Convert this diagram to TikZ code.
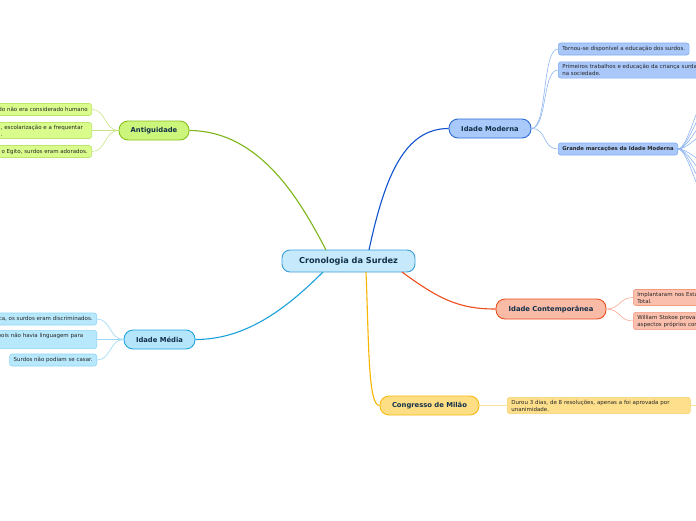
\documentclass[tikz,border=0pt]{standalone}
\usepackage{fontspec}
\setmainfont{DejaVu Sans}
\definecolor{txt}{HTML}{12304A}
\definecolor{cenF}{HTML}{C6E9FC}\definecolor{cenB}{HTML}{3A9FD8}
\definecolor{anF}{HTML}{CCF67B}\definecolor{anB}{HTML}{88C21D}\definecolor{anL}{HTML}{7DB618}
\definecolor{anLF}{HTML}{D9FC8C}\definecolor{anLB}{HTML}{BDE56A}\definecolor{anLL}{HTML}{C8E488}
\definecolor{meF}{HTML}{B4E5FA}\definecolor{meB}{HTML}{20A5E0}\definecolor{meL}{HTML}{1AA0DC}
\definecolor{meLF}{HTML}{B8E8FC}\definecolor{meLB}{HTML}{8ED5F5}\definecolor{meLL}{HTML}{9AD9F5}
\definecolor{moF}{HTML}{A8C9FA}\definecolor{moB}{HTML}{2C6CD6}\definecolor{moL}{HTML}{1052CF}
\definecolor{moLF}{HTML}{A9C8F9}\definecolor{moLB}{HTML}{7EAAF0}\definecolor{moLL}{HTML}{8FB6F2}
\definecolor{coF}{HTML}{F9BAA6}\definecolor{coB}{HTML}{EA5020}\definecolor{coL}{HTML}{EE4D1D}
\definecolor{coLF}{HTML}{FBC0AD}\definecolor{coLB}{HTML}{F4997D}\definecolor{coLL}{HTML}{F7AD96}
\definecolor{cgF}{HTML}{FEDE85}\definecolor{cgB}{HTML}{F6BB10}\definecolor{cgL}{HTML}{F8B500}
\definecolor{cgLF}{HTML}{FEDF8C}\definecolor{cgLB}{HTML}{F6D070}\definecolor{cgLL}{HTML}{FDE3A0}
\tikzset{
  mainbox/.style={draw, line width=0.9pt, rounded corners=9pt, minimum height=19pt,
    font=\fontsize{6.8}{8}\selectfont\bfseries, text=txt, inner sep=0pt},
  leafbox/.style={draw, line width=0.6pt, rounded corners=2.5pt, minimum height=12pt,
    font=\fontsize{5.5}{7}\selectfont, text=black!85, inner xsep=4pt, inner ysep=2.4pt, align=left},
  mainline/.style={line width=1.1pt},
  leafline/.style={line width=0.6pt}
}
\begin{document}
\begin{tikzpicture}[x=1pt,y=-1pt]
\useasboundingbox (0,0) rectangle (696,520);
\clip (0,0) rectangle (696,520);
\fill[white] (0,0) rectangle (696,520);

% central
\node[draw=cenB, fill=cenF, line width=0.9pt, rounded corners=8pt, minimum width=133pt, minimum height=22pt,
  font=\fontsize{8.2}{10}\selectfont\bfseries, text=txt, inner sep=0pt] (c) at (348.5,261) {Cronologia da Surdez};

% main topics
\node[mainbox, draw=anB, fill=anF, minimum width=70pt] (an) at (154,130.5) {Antiguidade};
\node[mainbox, draw=meB, fill=meF, minimum width=71pt] (me) at (159.5,339.5) {Idade Média};
\node[mainbox, draw=moB, fill=moF, minimum width=82pt] (mo) at (490,128.5) {Idade Moderna};
\node[mainbox, draw=coB, fill=coF, minimum width=110pt, minimum height=20pt] (co) at (551,309) {Idade Contemporânea};
\node[mainbox, draw=cgB, fill=cgF, minimum width=99pt] (cg) at (429.5,405.5) {Congresso de Milão};

% main connectors
\coordinate (cA) at (326,250);
\coordinate (cMo) at (369,250);
\coordinate (cMe) at (323,272);
\coordinate (cCo) at (402,272);
\coordinate (cCg) at (366,272);
\draw[mainline, anL] (an.east) .. controls (260,131) and (300,200) .. (cA);
\draw[mainline, moL] (cMo) .. controls (385,175) and (405,128.5) .. (mo.west);
\draw[mainline, meL] (cMe) .. controls (285,310) and (245,339.5) .. (me.east);
\draw[mainline, coL] (cCo) .. controls (440,300) and (460,309) .. (co.west);
\draw[mainline, cgL] (cCg) .. controls (369,345) and (368,405.5) .. (cg.west);

% Antiguidade leaves
\node[leafbox, draw=anLB, fill=anLF, anchor=east] (a1) at (92,109.5) {do não era considerado humano};
\node[leafbox, draw=anLB, fill=anLF, anchor=east, text width=87pt] (a2) at (92,130.5) {, escolarização e a frequentar\\.};
\node[leafbox, draw=anLB, fill=anLF, anchor=east] (a3) at (92,151.5) {o Egito, surdos eram adorados.};
\foreach \n in {a1,a2,a3}
  \draw[leafline, anLL] (an.west) .. controls +(-14,0) and +(14,0) .. (\n.east);

% Idade Media leaves
\node[leafbox, draw=meLB, fill=meLF, anchor=east] (m1) at (97,319) {ca, os surdos eram discriminados.};
\node[leafbox, draw=meLB, fill=meLF, anchor=east, text width=95pt] (m2) at (97,339.5) {pois não havia linguagem para\\ \strut};
\node[leafbox, draw=meLB, fill=meLF, anchor=east] (m3) at (97,360) {Surdos não podiam se casar.};
\foreach \n in {m1,m2,m3}
  \draw[leafline, meLL] (me.west) .. controls +(-14,0) and +(14,0) .. (\n.east);

% Idade Moderna leaves
\node[leafbox, draw=moLB, fill=moLF, anchor=west] (o1) at (558,49) {Tornou-se disponível a educação dos surdos.};
\node[leafbox, draw=moLB, fill=moLF, anchor=west, text width=160pt] (o2) at (558,70) {Primeiros trabalhos e educação da criança surda\\na sociedade.};
\node[leafbox, draw=moLB, fill=moLF, anchor=west, font=\fontsize{5.3}{7}\selectfont\bfseries] (o3) at (558,149) {Grande marcações da Idade Moderna};
\foreach \n in {o1,o2,o3}
  \draw[leafline, moLL] (mo.east) .. controls +(16,0) and +(-16,0) .. (\n.west);
\foreach \y [count=\i] in {98,110,122,134,162,174,186,198}
  \coordinate (f\i) at (706,\y);
\foreach \i in {1,...,8}
  \draw[leafline, moLL] (o3.east) .. controls +(10,0) and +(-8,0) .. (f\i);

% Idade Contemporanea leaves
\node[leafbox, draw=coLB, fill=coLF, anchor=west, text width=120pt] (t1) at (633,297.5) {Implantaram nos Esta\\Total.};
\node[leafbox, draw=coLB, fill=coLF, anchor=west, text width=120pt] (t2) at (633,321) {William Stokoe prova\\aspectos próprios cor};
\foreach \n in {t1,t2}
  \draw[leafline, coLL] (co.east) .. controls +(14,0) and +(-14,0) .. (\n.west);

% Congresso leaf
\node[leafbox, draw=cgLB, fill=cgLF, anchor=west, text width=175pt] (g1) at (507,405.5) {Durou 3 dias, de 8 resoluções, apenas a foi aprovada por\\unanimidade.};
\draw[leafline, cgLL] (cg.east) -- (g1.west);
\coordinate (g2) at (706,405.5);
\draw[leafline, cgLL] (g1.east) -- (g2);
\end{tikzpicture}
\end{document}
